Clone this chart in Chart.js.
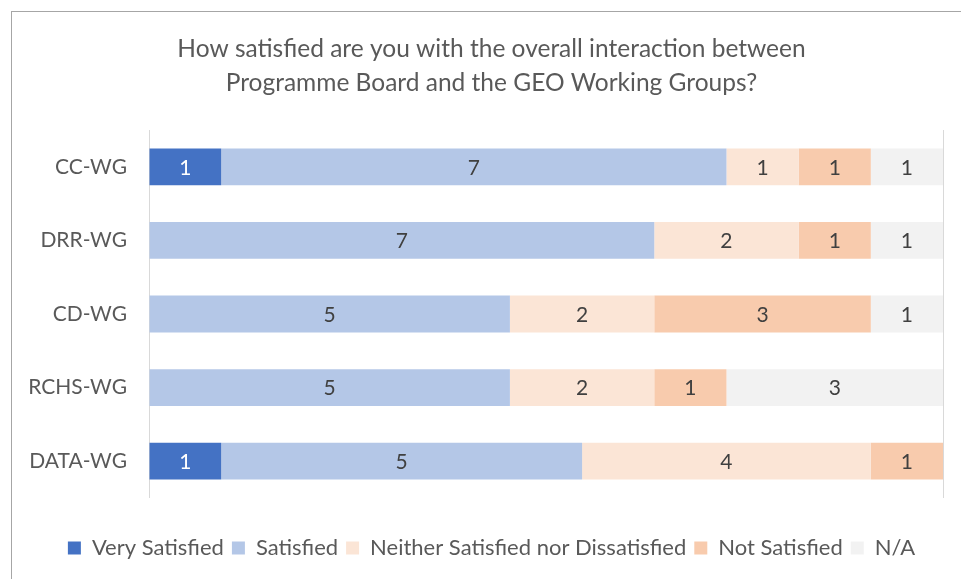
<!DOCTYPE html>
<html><head><meta charset="utf-8">
<script src="https://cdn.jsdelivr.net/npm/chart.js@4.4.1/dist/chart.umd.min.js"></script>
<style>html,body{margin:0;padding:0;background:#fff;overflow:hidden;}</style>
</head><body>
<canvas id="c" width="961" height="579"></canvas>
<script>
const categories = ['CC-WG', 'DRR-WG', 'CD-WG', 'RCHS-WG', 'DATA-WG'];
const seriesNames = ['Very Satisfied', 'Satisfied', 'Neither Satisfied nor Dissatisfied', 'Not Satisfied', 'N/A'];
const verySatisfied = [1, 0, 0, 0, 1];
const satisfied = [7, 7, 5, 5, 5];
const neither = [1, 2, 2, 2, 4];
const notSatisfied = [1, 1, 3, 1, 1];
const notApplicable = [1, 1, 1, 3, 0];
const titleLines = ['How satisfied are you with the overall interaction between', 'Programme Board and the GEO Working Groups?'];
const axisMax = 11;
const seriesColors = ['#4472C4', '#B4C7E7', '#FBE5D6', '#F8CBAD', '#F2F2F2'];

const FONT = 'Lato';

const frame = {
  id: 'frame',
  beforeDraw(chart) {
    const ctx = chart.ctx;
    ctx.save();
    ctx.fillStyle = '#FFFFFF';
    ctx.fillRect(0, 0, chart.width, chart.height);
    ctx.strokeStyle = '#A6A6A6';
    ctx.lineWidth = 1;
    ctx.strokeRect(11.5, 11.5, 2000, 2000);
    ctx.restore();
  }
};

// let the category labels extend into the left padding without being clipped
const widenLabelArea = {
  id: 'widenLabelArea',
  afterLayout(chart) {
    const y = chart.scales.y;
    if (y) { y.left = 0; }
  }
};

const barLabels = {
  id: 'barLabels',
  afterDatasetsDraw(chart) {
    const ctx = chart.ctx;
    ctx.save();
    ctx.font = '21px ' + FONT;
    ctx.textAlign = 'center';
    ctx.textBaseline = 'middle';
    chart.data.datasets.forEach((ds, i) => {
      const meta = chart.getDatasetMeta(i);
      meta.data.forEach((bar, j) => {
        const v = ds.data[j];
        if (!v) return;
        const p = bar.getCenterPoint();
        ctx.fillStyle = i === 0 ? '#FFFFFF' : '#404040';
        ctx.fillText(String(v), p.x, p.y + 1);
      });
    });
    ctx.restore();
  }
};

function build() {
  const allSeries = [verySatisfied, satisfied, neither, notSatisfied, notApplicable];
  new Chart(document.getElementById('c'), {
    type: 'bar',
    data: {
      labels: categories,
      datasets: allSeries.map((d, i) => ({
        label: seriesNames[i],
        data: d,
        backgroundColor: seriesColors[i],
        borderWidth: 0,
        barPercentage: 0.5,
        categoryPercentage: 1.0
      }))
    },
    options: {
      indexAxis: 'y',
      responsive: false,
      animation: false,
      layout: { padding: { left: 40, right: 18, top: 0, bottom: 10 } },
      plugins: {
        tooltip: { enabled: false },
        title: {
          display: true,
          text: titleLines,
          color: '#595959',
          font: { family: FONT, size: 24.5, weight: 'normal', lineHeight: 34 / 24.5 },
          padding: { top: 32, bottom: 30 }
        },
        legend: {
          position: 'bottom',
          labels: {
            color: '#595959',
            font: { family: FONT, size: 22 },
            boxWidth: 13,
            boxHeight: 13,
            padding: 8
          }
        }
      },
      scales: {
        x: {
          stacked: true,
          min: 0,
          max: axisMax,
          ticks: { display: false, stepSize: axisMax },
          grid: { color: '#D9D9D9', lineWidth: 1, drawTicks: false },
          border: { display: false },
          afterFit(scale) { scale.height = 31; }
        },
        y: {
          stacked: true,
          grid: { display: false, drawTicks: false },
          border: { display: false },
          ticks: { color: '#595959', font: { family: FONT, size: 21 }, padding: 22 },
          afterFit(scale) { scale.width = 109; }
        }
      }
    },
    plugins: [frame, widenLabelArea, barLabels]
  });
}

if (document.fonts && document.fonts.load) {
  document.fonts.load('20px ' + FONT).then(build, build);
} else {
  build();
}
</script>
</body></html>
